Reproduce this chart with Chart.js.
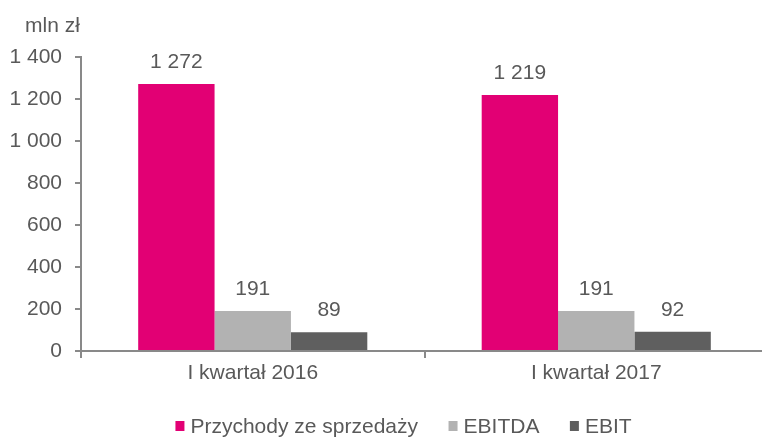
<!DOCTYPE html>
<html>
<head>
<meta charset="utf-8">
<script src="https://cdn.jsdelivr.net/npm/chart.js@4/dist/chart.umd.min.js"></script>
<style>
  html, body { margin: 0; padding: 0; background: #ffffff; overflow: hidden; }
  #wrap { width: 762px; height: 437px; overflow: hidden; }
  canvas { display: block; }
</style>
</head>
<body>
<div id="wrap"><canvas id="c" width="768" height="437"></canvas></div>
<script>
const categories = ['I kwartał 2016', 'I kwartał 2017'];
const seriesNames = ['Przychody ze sprzedaży', 'EBITDA', 'EBIT'];
const przychody = [1272, 1219];
const ebitda = [191, 191];
const ebit = [89, 92];
const yTicks = [0, 200, 400, 600, 800, 1000, 1200, 1400];
const unitLabel = 'mln zł';

const colors = ['#E20074', '#B2B2B2', '#5F5F5F'];
const textColor = '#595959';
const axisColor = '#898989';
const FONT = "'Liberation Sans', Arial, sans-serif";
const FS = 21;

function fmt(v) {
  return String(v).replace(/\B(?=(\d{3})+(?!\d))/g, ' ');
}

const labelPlugin = {
  id: 'valueLabels',
  afterDatasetsDraw(chart) {
    const ctx = chart.ctx;
    ctx.save();
    ctx.font = FS + 'px ' + FONT;
    ctx.fillStyle = textColor;
    ctx.textAlign = 'center';
    ctx.textBaseline = 'alphabetic';
    chart.data.datasets.forEach((ds, i) => {
      const meta = chart.getDatasetMeta(i);
      meta.data.forEach((el, j) => {
        ctx.fillText(fmt(ds.data[j]), el.x, el.y - 16);
      });
    });
    // unit label above the value axis
    ctx.fillText(unitLabel, 52.5, 32);

    // legend (drawn from dataset labels/colours)
    const box = 9, gapText = 6, spacing = 30.5;
    const items = chart.data.datasets.map(ds => ({
      text: ds.label, color: ds.backgroundColor, w: ctx.measureText(ds.label).width
    }));
    let total = 0;
    items.forEach((it, k) => { total += box + gapText + it.w + (k < items.length - 1 ? spacing : 0); });
    let x = 403.5 - total / 2;
    const baseY = 433;
    ctx.textAlign = 'left';
    items.forEach(it => {
      ctx.fillStyle = it.color;
      ctx.fillRect(x, baseY - 12, box, box + 1);
      ctx.fillStyle = textColor;
      ctx.fillText(it.text, x + box + gapText, baseY);
      x += box + gapText + it.w + spacing;
    });
    ctx.restore();
  }
};

new Chart(document.getElementById('c'), {
  type: 'bar',
  data: {
    labels: categories,
    datasets: [
      { label: seriesNames[0], data: przychody, backgroundColor: colors[0] },
      { label: seriesNames[1], data: ebitda, backgroundColor: colors[1] },
      { label: seriesNames[2], data: ebit, backgroundColor: colors[2] }
    ]
  },
  options: {
    responsive: false,
    animation: false,
    devicePixelRatio: 1,
    categoryPercentage: 0.667,
    barPercentage: 1.0,
    layout: { padding: { top: 57, right: 0, left: 0, bottom: 46 } },
    plugins: {
      legend: { display: false },
      tooltip: { enabled: false }
    },
    scales: {
      x: {
        afterFit(scale) { scale.height = 40; },
        grid: { display: true, drawOnChartArea: false, offset: true, tickLength: 7, color: axisColor, lineWidth: 2 },
        border: { color: axisColor, width: 2 },
        ticks: { color: textColor, font: { family: FONT, size: FS }, padding: 3 }
      },
      y: {
        min: 0,
        max: 1400,
        afterBuildTicks(scale) { scale.ticks = yTicks.map(v => ({ value: v })); },
        afterFit(scale) { scale.width = 81; },
        grid: { display: true, drawOnChartArea: false, tickLength: 6, color: axisColor, lineWidth: 2 },
        border: { color: axisColor, width: 2 },
        ticks: { color: textColor, font: { family: FONT, size: FS }, padding: 13, callback: v => fmt(v) }
      }
    }
  },
  plugins: [labelPlugin]
});
</script>
</body>
</html>
